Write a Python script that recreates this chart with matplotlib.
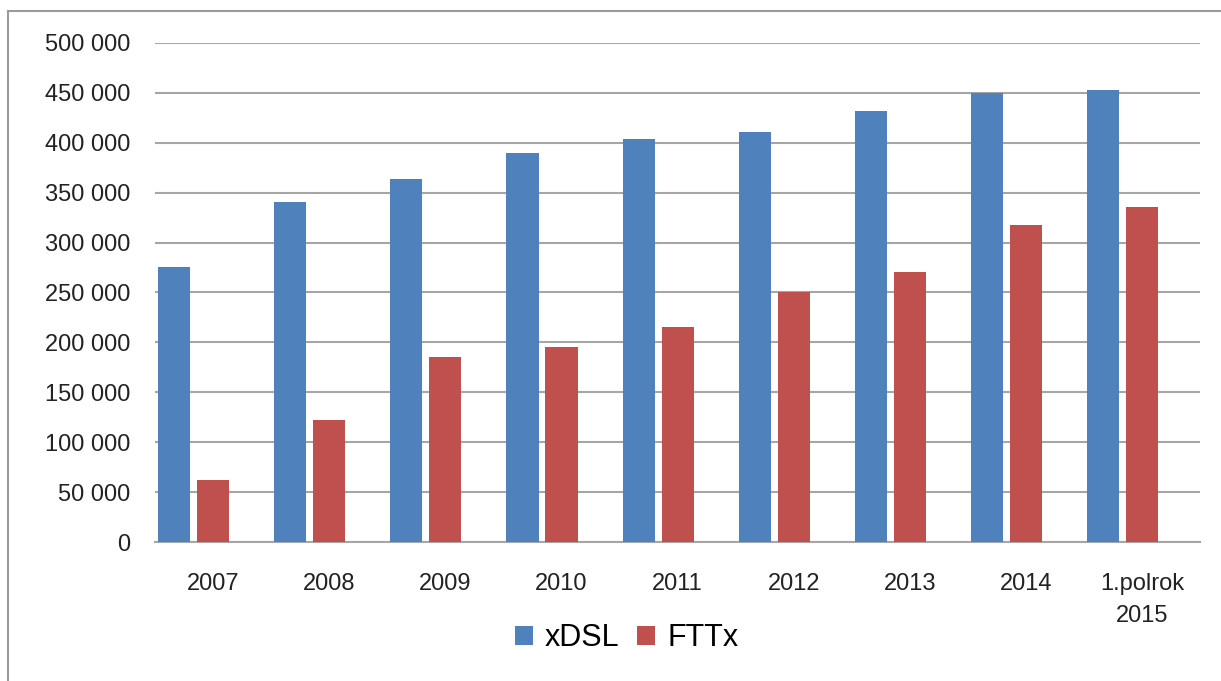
import matplotlib.pyplot as plt
import matplotlib.patches as mpatches
import numpy as np

categories = ['2007', '2008', '2009', '2010', '2011', '2012', '2013', '2014', '1.polrok\n2015']
xdsl = [276000, 341000, 364000, 390000, 404000, 411000, 432000, 450000, 453000]
fttx = [62000, 122000, 185000, 195000, 215000, 250000, 271000, 318000, 336000]
yticks = list(range(0, 500001, 50000))

plt.rcParams['font.family'] = ['Liberation Sans', 'DejaVu Sans']

fig = plt.figure(figsize=(12.21, 6.81), dpi=100)
ax = fig.add_axes([0.127, 0.204, 0.856, 0.733])

# outer chart frame
fig.patches.append(mpatches.Rectangle((8 / 1221, -0.05), 1.1, 1 - 11 / 681 + 0.05,
                                      transform=fig.transFigure, fill=False,
                                      edgecolor='#9a9a9a', linewidth=1.5))

x = np.arange(len(categories))
w = 0.276
ax.bar(x - 0.336, xdsl, width=w, color='#4F81BD', label='xDSL', zorder=3)
ax.bar(x, fttx, width=w, color='#C0504D', label='FTTx', zorder=3)

ax.set_xlim(-0.5, len(categories) - 0.5)
ax.set_ylim(0, 500000)
ax.set_yticks(yticks)
ax.set_yticklabels([f'{v:,}'.replace(',', ' ') for v in yticks])
ax.set_xticks(x)
ax.set_xticklabels(categories, ha='center', multialignment='center', linespacing=1.6)
ax.tick_params(axis='y', length=0, pad=18, labelsize=17, colors='#222222')
ax.tick_params(axis='x', length=0, pad=22, labelsize=17, colors='#222222')

ax.grid(axis='y', color='#a6a6a6', linewidth=1.5, zorder=0)
for s in ['top', 'right', 'left']:
    ax.spines[s].set_visible(False)
ax.spines['bottom'].set_color('#a6a6a6')
ax.spines['bottom'].set_linewidth(1.5)

fig.legend(loc='lower center', bbox_to_anchor=(0.513, 0.0), ncol=2, frameon=False,
           fontsize=22, handlelength=0.6, handleheight=0.6, handletextpad=0.4,
           columnspacing=0.55)

fig.savefig('out.png', dpi=100)
